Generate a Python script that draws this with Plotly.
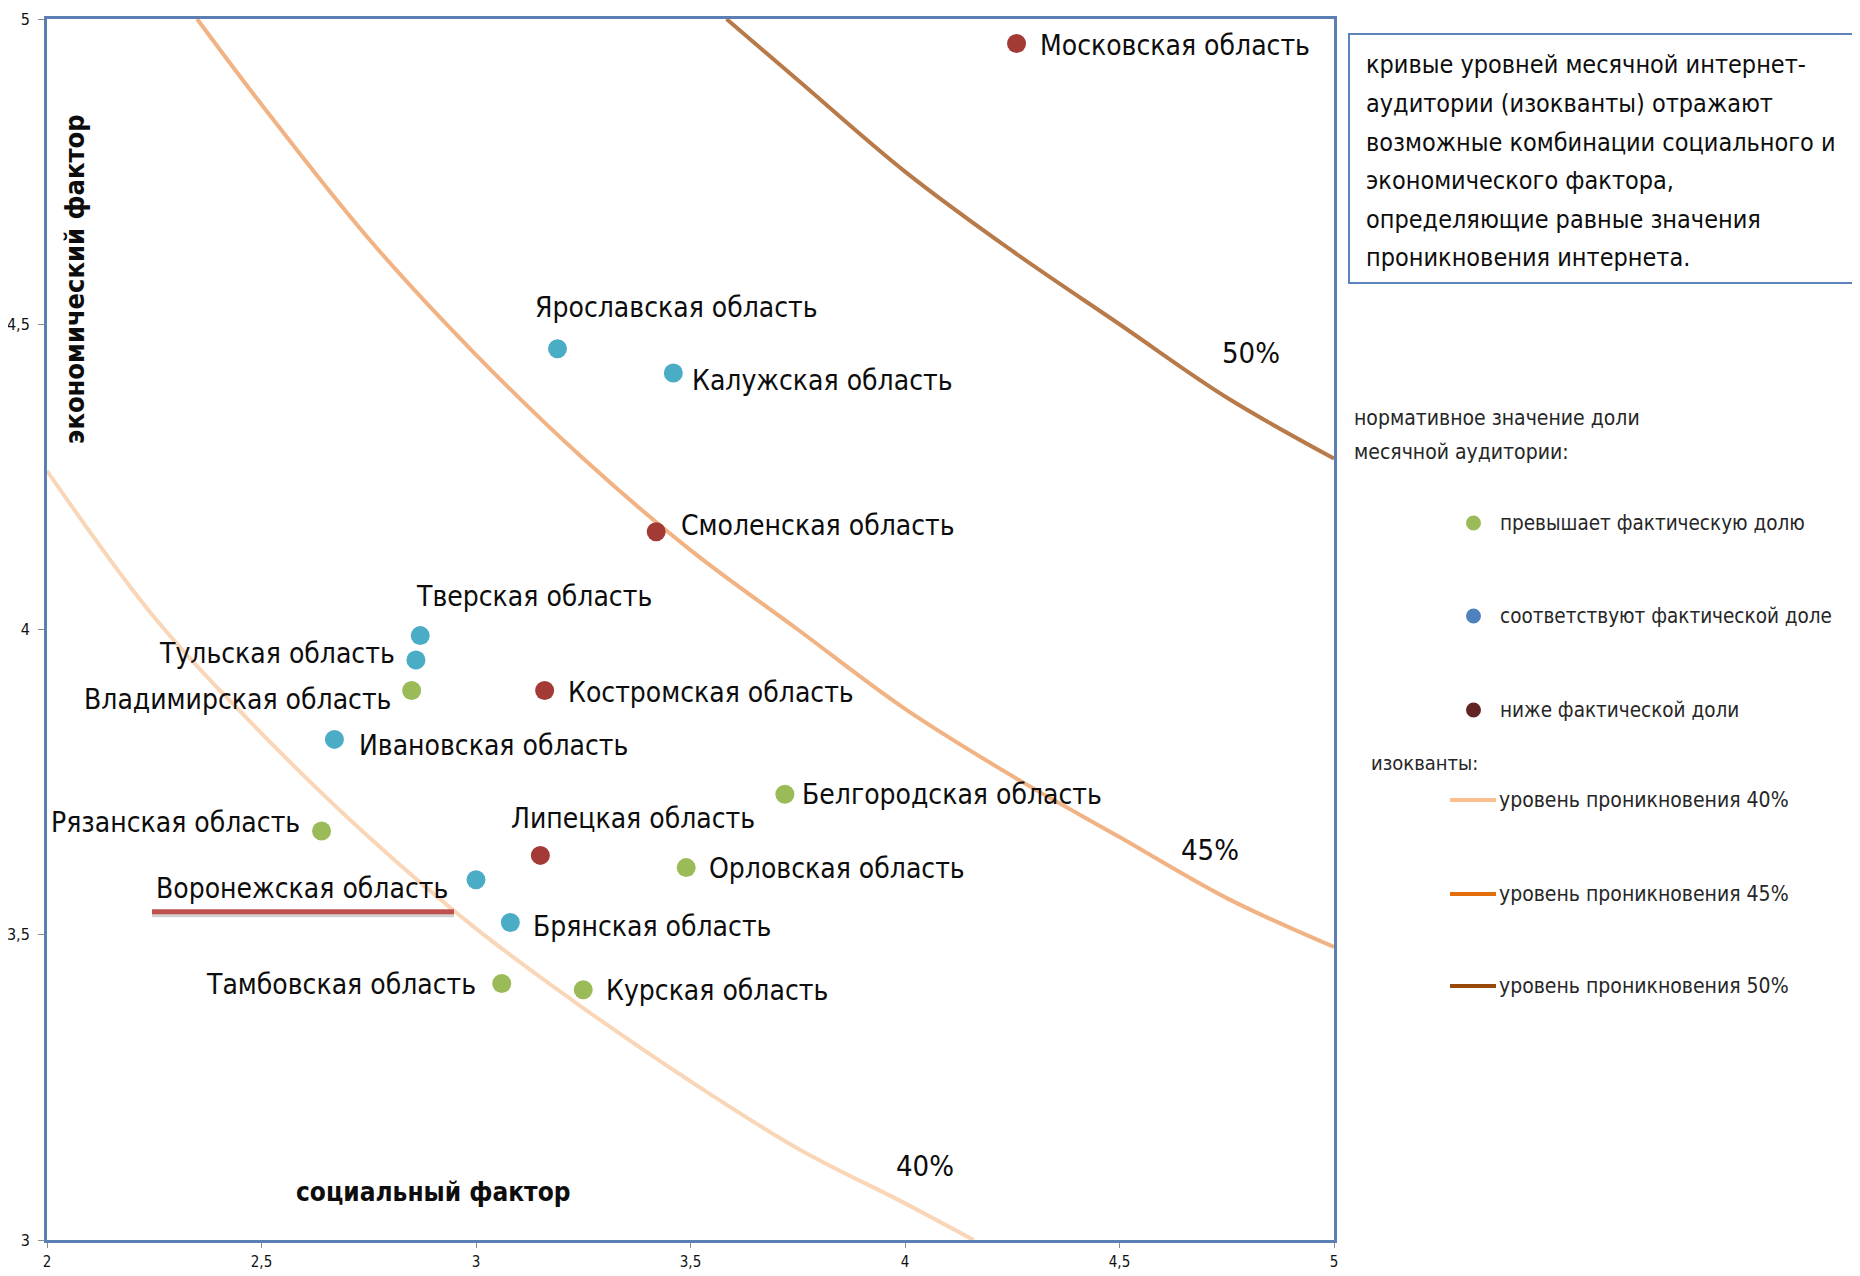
import plotly.graph_objects as go

# ---------------- data ----------------
regions = ["Московская область", "Ярославская область", "Калужская область",
           "Смоленская область", "Тверская область", "Тульская область",
           "Владимирская область", "Костромская область", "Ивановская область",
           "Белгородская область", "Рязанская область", "Липецкая область",
           "Орловская область", "Воронежская область", "Брянская область",
           "Тамбовская область", "Курская область"]
social = [4.26, 3.19, 3.46, 3.42, 2.87, 2.86, 2.85, 3.16, 2.67, 3.72, 2.64,
          3.15, 3.49, 3.00, 3.08, 3.06, 3.25]
economic = [4.96, 4.46, 4.42, 4.16, 3.99, 3.95, 3.90, 3.90, 3.82, 3.73, 3.67,
            3.63, 3.61, 3.59, 3.52, 3.42, 3.41]
status = ["below", "match", "match", "below", "match", "match", "above", "below",
          "match", "above", "above", "below", "above", "match", "match", "above",
          "above"]

iso40_x = [2.00, 2.25, 2.50, 2.75, 3.00, 3.25, 3.50, 3.75, 4.00, 4.16]
iso40_y = [4.26, 4.02, 3.83, 3.66, 3.51, 3.38, 3.26, 3.15, 3.06, 3.00]
iso45_x = [2.35, 2.50, 2.75, 3.00, 3.25, 3.50, 3.75, 4.00, 4.25, 4.50, 4.75, 5.00]
iso45_y = [5.00, 4.86, 4.64, 4.45, 4.28, 4.13, 4.00, 3.87, 3.76, 3.66, 3.56, 3.48]
iso50_x = [3.584, 3.75, 4.00, 4.25, 4.50, 4.75, 5.00]
iso50_y = [5.00, 4.90, 4.75, 4.62, 4.50, 4.38, 4.28]

x_ticks = [2, 2.5, 3, 3.5, 4, 4.5, 5]
y_ticks = [3, 3.5, 4, 4.5, 5]

# ---------------- style ----------------
FONT = "DejaVu Sans Condensed, Liberation Sans Narrow, sans-serif"
PAGE_OFF = 8                      # default body margin of the html page
W, H = 1860 - 2 * PAGE_OFF, 1276 - PAGE_OFF
L, R, T, B = 47, 1334, 19, 1240   # plot area in page pixels

def px(x):
    return (x - L) / (R - L)

def py(y):
    return (B - y) / (B - T)

dot_colors = {"above": "#9bbb59", "match": "#4bacc6", "below": "#a33a36"}

# label placement: (xanchor, xshift, yshift)
label_pos = {
    "Московская область": ("left", 21, -2),
    "Ярославская область": ("left", -25, 41),
    "Калужская область": ("left", 17, -7),
    "Смоленская область": ("left", 23, 6),
    "Тверская область": ("left", -6, 39),
    "Тульская область": ("right", -19, 7),
    "Владимирская область": ("right", -19, -9),
    "Костромская область": ("left", 21, -2),
    "Ивановская область": ("left", 23, -6),
    "Белгородская область": ("left", 15, 0),
    "Рязанская область": ("right", -20, 8),
    "Липецкая область": ("left", -31, 37),
    "Орловская область": ("left", 21, -1),
    "Воронежская область": ("right", -26, -9),
    "Брянская область": ("left", 21, -4),
    "Тамбовская область": ("right", -24, -1),
    "Курская область": ("left", 21, -1),
}

fig = go.Figure()

# isoquants
for xs, ys, col in [(iso40_x, iso40_y, "#fad6b8"),
                    (iso45_x, iso45_y, "#f1b384"),
                    (iso50_x, iso50_y, "#b77a48")]:
    fig.add_trace(go.Scatter(x=xs, y=ys, mode="lines",
                             line=dict(color=col, width=4, shape="spline"),
                             hoverinfo="skip", showlegend=False))

# points
fig.add_trace(go.Scatter(
    x=social, y=economic, mode="markers",
    marker=dict(size=19, color=[dot_colors[s] for s in status]),
    text=regions, hoverinfo="text", showlegend=False))

annotations = []
for name, xv, yv in zip(regions, social, economic):
    anc, xs, ys = label_pos[name]
    annotations.append(dict(x=xv, y=yv, xref="x", yref="y", text=name,
                            showarrow=False, xanchor=anc, yanchor="middle",
                            xshift=xs, yshift=ys,
                            font=dict(family=FONT, size=28, color="#0d0d0d")))

# percentage labels near curves
for txt, xp, yp in [("50%", 1251, 353), ("45%", 1210, 850), ("40%", 925, 1166)]:
    annotations.append(dict(x=px(xp), y=py(yp), xref="paper", yref="paper",
                            text=txt, showarrow=False, xanchor="center",
                            yanchor="middle",
                            font=dict(family=FONT, size=29, color="#0d0d0d")))

# axis titles (inside plot)
annotations.append(dict(x=px(74), y=py(279), xref="paper", yref="paper",
                        text="<b>экономический фактор</b>", textangle=-90,
                        showarrow=False, xanchor="center", yanchor="middle",
                        font=dict(family=FONT, size=27, color="#0d0d0d")))
annotations.append(dict(x=px(433), y=py(1192), xref="paper", yref="paper",
                        text="<b>социальный фактор</b>",
                        showarrow=False, xanchor="center", yanchor="middle",
                        font=dict(family=FONT, size=26, color="#0d0d0d")))

# info box text
box_lines = ["кривые уровней месячной интернет-",
             "аудитории (изокванты) отражают",
             "возможные комбинации социального и",
             "экономического фактора,",
             "определяющие равные значения",
             "проникновения интернета."]
for i, line in enumerate(box_lines):
    annotations.append(dict(x=px(1364), y=py(65 + i * 38.5), xref="paper",
                            yref="paper", text=line, showarrow=False,
                            xanchor="left", yanchor="middle",
                            font=dict(family=FONT, size=25, color="#0d0d0d")))

# legend texts
legend_items = [
    (1352, 418, "нормативное значение доли", 21),
    (1352, 452, "месячной аудитории:", 21),
    (1498, 523, "превышает фактическую долю", 20.5),
    (1498, 616, "соответствуют фактической доле", 20.5),
    (1498, 710, "ниже фактической доли", 20.5),
    (1369, 763, "изокванты:", 20),
    (1497, 800, "уровень проникновения 40%", 21),
    (1497, 894, "уровень проникновения 45%", 21),
    (1497, 986, "уровень проникновения 50%", 21),
]
for xp, yp, txt, fs in legend_items:
    annotations.append(dict(x=px(xp), y=py(yp), xref="paper", yref="paper",
                            text=txt, showarrow=False, xanchor="left",
                            yanchor="middle",
                            font=dict(family=FONT, size=fs, color="#262626")))

shapes = []
# info box
shapes.append(dict(type="rect", xref="paper", yref="paper",
                   x0=px(1349), x1=px(1870), y0=py(283), y1=py(34),
                   line=dict(color="#5b84bd", width=2), fillcolor="rgba(0,0,0,0)"))
# legend markers
for yp, col in [(523, "#9bbb59"), (616, "#4f81bd"), (710, "#632523")]:
    shapes.append(dict(type="circle", xref="paper", yref="paper",
                       x0=px(1466), x1=px(1481), y0=py(yp + 7.5), y1=py(yp - 7.5),
                       fillcolor=col, line=dict(width=0)))
for yp, col in [(800, "#fac090"), (894, "#e46c0a"), (986, "#984807")]:
    shapes.append(dict(type="line", xref="paper", yref="paper",
                       x0=px(1450), x1=px(1496), y0=py(yp), y1=py(yp),
                       line=dict(color=col, width=4)))
# underline for Воронежская область (anchored at its point, pixel offsets)
vi = regions.index("Воронежская область")
for off, col, wdt in [(-3, "rgba(0,0,0,0.18)", 5), (0, "#c0504d", 5)]:
    shapes.append(dict(type="line", xref="x", yref="y",
                       xsizemode="pixel", ysizemode="pixel",
                       xanchor=social[vi], yanchor=economic[vi],
                       x0=-324, x1=-22, y0=-32 + off, y1=-32 + off,
                       line=dict(color=col, width=wdt)))

fig.update_layout(
    width=W, height=H,
    margin=dict(l=L - PAGE_OFF, r=W - (R - PAGE_OFF), t=T - PAGE_OFF,
                b=H - (B - PAGE_OFF), pad=0, autoexpand=False),
    paper_bgcolor="white", plot_bgcolor="white",
    separators=", ",
    showlegend=False,
    annotations=annotations,
    shapes=shapes,
    font=dict(family=FONT),
)
fig.update_xaxes(range=[2, 5], tickvals=x_ticks, showgrid=False, zeroline=False,
                 automargin=False,
                 showline=True, linecolor="#5b7fb3", linewidth=3, mirror=True,
                 ticks="outside", ticklen=5, tickcolor="#8c8c8c",
                 ticklabelstandoff=1,
                 tickfont=dict(family=FONT, size=15, color="#111111"))
fig.update_yaxes(range=[3, 5], tickvals=y_ticks, showgrid=False, zeroline=False,
                 automargin=False,
                 showline=True, linecolor="#5b7fb3", linewidth=3, mirror=True,
                 ticks="outside", ticklen=6, tickcolor="#8c8c8c",
                 ticklabelstandoff=5,
                 tickfont=dict(family=FONT, size=16, color="#111111"))

fig.write_html("out.html")
